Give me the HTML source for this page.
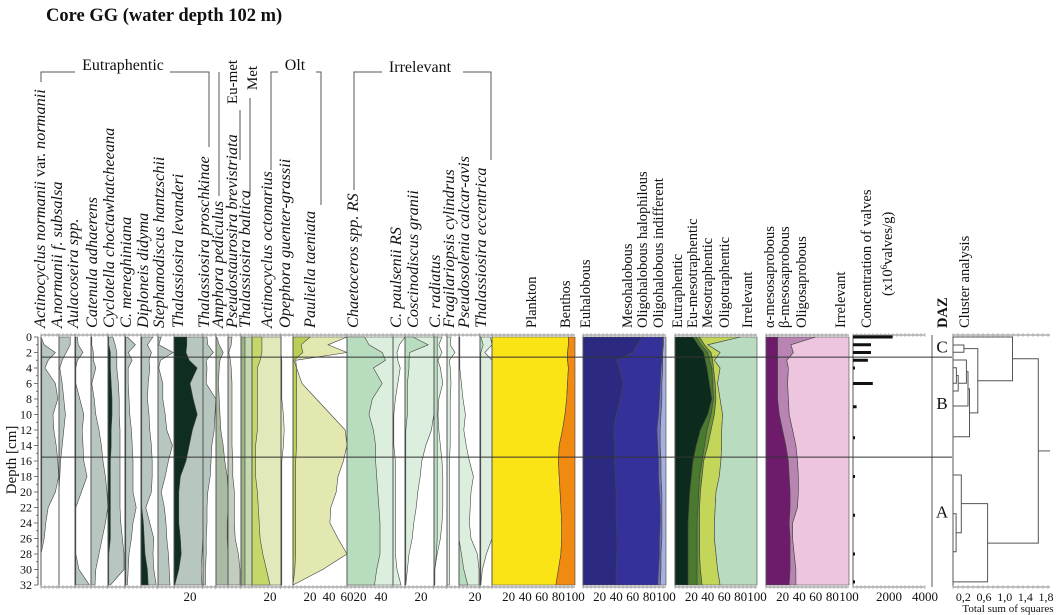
<!DOCTYPE html>
<html><head><meta charset="utf-8"><title>Core GG diatom diagram</title>
<style>
html,body{margin:0;padding:0;background:#fff;}
svg{display:block;font-family:"Liberation Serif",serif;}
</style></head>
<body>
<svg id="chart" width="1061" height="615" viewBox="0 0 1061 615" xmlns="http://www.w3.org/2000/svg">
<text x="46" y="21" font-size="18.5" font-weight="bold" fill="#111">Core GG (water depth 102 m)</text>
<text transform="translate(16,460) rotate(-90)" text-anchor="middle" font-size="15" fill="#111">Depth [cm]</text>
<g id="g-groups" stroke="#555" stroke-width="1" fill="none">
<polyline points="41,82 41,72 75,72"/><polyline points="170,72 209,72 209,147"/>
<polyline points="219,196 219,72"/><polyline points="240,160 240,110"/>
<polyline points="250,196 250,98"/>
<polyline points="271,170 271,72 278,72"/><polyline points="316,72 321,72 321,205"/>
<polyline points="354,190 354,72 382,72"/><polyline points="463,72 491,72 491,160"/>
</g>
<text x="123" y="70" text-anchor="middle" font-size="16" fill="#111">Eutraphentic</text>
<text transform="translate(237,82) rotate(-90)" text-anchor="middle" font-size="15" fill="#111">Eu-met</text>
<text transform="translate(257,78) rotate(-90)" text-anchor="middle" font-size="15" fill="#111">Met</text>
<text x="295" y="70" text-anchor="middle" font-size="16" fill="#111">Olt</text>
<text x="420" y="72" text-anchor="middle" font-size="16" fill="#111">Irrelevant</text>
<g id="g-main"></g>
</svg>
<script>
// ---------- data ----------
const depths=[0,1,2,3,4,6,8,10,12,14,16,18,20,22,24,26,28,30,32];
const actNormOuter=[0,4,18,9,5,18,21,15,16,19,21,22,18,9,6,4,0,0,0];
const actNormInner=[0,1,1,1,1,1,1,1,1,1,1,1,1,1,1,1,0,0,0];
const subsalsaOuter=[14,14,9,4,1,4,6,8,6,4,2,1,0,0,0,0,0,0,0];
const aulacoOuter=[3,4,10,3,1,1,6,11,9,10,11,15,8,1,1,1,1,5,18];
const aulacoInner=[1,1,1,1,1,1,1,1,1,1,1,1,1,1,1,1,1,1,1];
const catenulaOuter=[1,1,3,3,6,1,4,6,10,13,15,18,20,21,18,14,10,6,5];
const cyclotOuter=[6,9,11,11,11,13,14,14,15,15,15,15,15,15,16,18,20,20,3];
const cyclotInner=[1,1,3,3,3,4,5,5,4,4,3,3,3,3,3,3,1,1,1];
const menegOuter=[3,13,4,9,4,4,5,6,8,9,10,10,10,14,10,8,5,4,3];
const menegInner=[1,1,1,1,1,1,1,1,1,1,1,1,1,1,1,1,1,1,1];
const diplOuter=[15,8,13,10,11,9,8,10,11,13,14,14,13,6,11,16,15,16,19];
const diplInner=[1,1,1,1,1,1,1,1,1,1,1,1,1,1,3,4,5,8,9];
const stephOuter=[4,1,19,3,1,6,6,9,11,18,13,9,4,8,10,11,13,14,15];
const levOuter=[36,36,36,36,36,36,36,36,36,36,36,36,36,36,36,36,35,34,35];
const levInner=[16,16,15,19,29,20,24,29,23,19,15,8,6,6,6,8,9,6,1];
const proschOuter=[5,6,13,4,5,4,16,15,14,11,10,9,6,5,5,4,4,3,3];
const amphOuter=[1,4,9,5,4,3,4,5,6,9,11,14,15,15,14,14,15,15,15];
const pseudostOuter=[5,4,1,3,4,5,5,5,5,5,6,6,8,8,8,9,13,15,15];
const balticaOuter=[14,14,14,14,14,14,14,14,14,14,14,14,14,14,14,14,14,14,14];
const balticaInner=[5,5,5,5,5,5,5,5,5,5,5,5,5,5,5,5,5,5,5];
const octOuter=[32,32,32,32,32,32,32,32,32,32,32,32,32,32,32,32,32,32,32];
const octInner=[11,11,11,9,6,6,6,6,6,4,4,4,6,7,8,9,12,16,20];
const opephOuter=[0,0,0,1,1,1,1,3,4,3,1,1,1,1,1,1,1,1,1];
const paulOuter=[60,39,60,3,4,10,26,42,58,60,56,50,48,42,41,50,60,33,0];
const paulInner=[19,9,11,1,4,4,4,4,4,4,3,3,3,3,3,3,3,2,0];
const chaetOuter=[42,42,42,42,42,42,42,42,42,42,42,42,42,42,42,42,42,42,42];
const chaetInner=[16,20,32,35,24,32,23,20,24,26,26,27,28,29,30,30,30,27,25];
const cpaulOuter=[15,8,5,6,9,6,3,1,1,1,3,3,3,3,3,3,3,5,10];
const cosciOuter=[36,36,36,36,36,36,36,36,33,26,21,19,16,14,11,9,5,3,1];
const cosciInner=[10,29,6,5,5,3,3,3,1,1,1,1,1,1,1,1,1,1,1];
const radOuter=[10,6,10,5,8,11,6,5,6,8,10,11,11,11,10,8,4,1,1];
const radInner=[4,4,4,4,4,4,4,4,4,4,4,4,4,4,4,4,3,1,1];
const fragOuter=[5,4,10,3,4,5,4,4,4,4,3,3,3,3,3,3,3,3,3];
const pseudosolOuter=[1,1,1,1,1,3,5,8,6,9,13,18,15,14,13,15,23,25,25];
const pseudosolInner=[0,0,0,0,0,0,0,0,0,0,0,0,0,0,0,0,3,6,11];
const eccOuter=[13,15,6,15,15,15,15,15,15,15,15,15,15,15,15,15,8,3,1];
const eccInner=[1,4,1,1,1,1,1,1,1,1,1,1,1,1,1,1,1,1,1];
const plankton=[92,92,91,91,92,91,90,88,85,81,80,81,82,83,84,84,83,80,77];
const euhalCum=[71,65,60,40,44,48,45,40,37,38,38,39,40,40,40,41,41,40,40];
const mesohalCum=[96,96,95,95,94,93,92,91,89,90,91,91,92,93,93,92,92,91,90];
const oligohalCum=[97,97,96,96,96,95,95,94,93,93,94,94,95,95,95,95,94,94,93];
const eutrCum=[22,28,35,37,39,42,45,40,31,26,22,20,18,17,16,16,16,16,16];
const eumesoCum=[26,32,40,42,45,46,47,44,39,36,33,30,29,28,27,27,27,27,27];
const mesotrCum=[30,36,44,46,47,49,50,48,44,40,35,33,31,30,30,30,30,31,33];
const oligotrCum=[80,40,55,48,55,52,55,58,57,57,56,54,50,49,48,48,50,52,55];
const alphaCum=[14,14,14,14,14,14,14,16,20,24,27,28,29,29,28,29,29,29,28];
const betaCum=[60,30,33,25,27,26,27,28,32,36,38,39,39,38,32,32,34,36,36];
const concDepths=[0,1,2,3,4,6,9,13,18,23,28,31.6];
const concValues=[2200,1000,1000,830,100,1100,200,100,80,30,30,30];
const linkTop=[1.03,3.96,4.97,2.97,4.47,6.7,1.5,0,22.8,17.8,21.5,2.8];
const linkBot=[1.98,5.98,6.97,5.97,8.9,12.86,9.8,5.65,27.7,25.25,31.6,26.6];
const linkH=[0.21,0.065,0.10,0.26,0.29,0.32,0.48,1.15,0.06,0.16,0.67,1.65];
const linkHTop=[0,0,0.065,0,0.26,0.29,0.21,0,0,0,0.16,1.15];
const linkHBot=[0,0,0,0.10,0,0,0.32,0.48,0,0.06,0,0.67];
const depthTicks=[0,2,4,6,8,10,12,14,16,18,20,22,24,26,28,30,32];
const clusterTicks=["0,2","0,6","1,0","1,4","1,8"];
const clusterTickVals=[0.2,0.6,1.0,1.4,1.8];
const dazLabels=["C","B","A"];
const dazDepths=[1.2,8.5,22.5];
const zoneBounds=[2.6,15.5];

// ---------- helpers ----------
const NS="http://www.w3.org/2000/svg";
const main=document.getElementById('g-main');
const Y0=337, DY=7.75;
function yD(d){return Y0+d*DY;}
function mk(tag,attrs,parent){const e=document.createElementNS(NS,tag);for(const k in attrs)e.setAttribute(k,attrs[k]);(parent||main).appendChild(e);return e;}

function frame(x0,x1,name){
  const g=mk('g',{});
  
  
  mk('line',{x1:x0,y1:yD(0)-2,x2:x0,y2:yD(32)+2,stroke:'#555','stroke-width':1},g);
  [yD(0)-2,yD(32)+2].forEach(yy=>{
    mk('line',{x1:x0,y1:yy,x2:x1,y2:yy,stroke:'#888','stroke-width':1},g);
    for(let x=x0;x<=x1;x+=4){mk('line',{x1:x,y1:yy-2,x2:x,y2:yy+2,stroke:'#999','stroke-width':0.6},g);}
  });
}
function area(x0,s,vals,fill,name,lower){
  let pts=[];
  for(let i=0;i<depths.length;i++)pts.push((x0+vals[i]*s).toFixed(1)+','+yD(depths[i]).toFixed(1));
  if(lower){for(let i=depths.length-1;i>=0;i--)pts.push((x0+lower[i]*s).toFixed(1)+','+yD(depths[i]).toFixed(1));}
  else{pts.push(x0+','+yD(32));pts.push(x0+','+yD(0));}
  const p=mk('polygon',{points:pts.join(' '),fill:fill,stroke:'#444','stroke-width':0.6});
  
  
  return p;
}
function vlabel(x,text,italic,name,size){
  const t=mk('text',{transform:'translate('+x+',328) rotate(-90)','font-size':size||(italic?16.3:14.5),fill:'#111'});
  if(italic)t.setAttribute('font-style','italic');
  t.textContent=text;
  
  
  return t;
}
function blabel(x,text,name,y,size){
  const t=mk('text',{x:x,y:y||601,'text-anchor':'middle','font-size':size||13,fill:'#111'});
  t.textContent=text;
  
  
}

// ---------- depth axis ----------
mk('line',{x1:38,y1:yD(0),x2:38,y2:yD(32),stroke:'#555'});
for(let d=0;d<=32;d++){mk('line',{x1:d%2?36:34,y1:yD(d),x2:38,y2:yD(d),stroke:'#555','stroke-width':0.8});}
depthTicks.forEach(d=>{
  const t=mk('text',{x:32,y:yD(d)+4,'text-anchor':'end','font-size':12,fill:'#111'});
  t.textContent=d;
  
  
});

// ---------- taxa panels ----------
const G='#b8c6c0', DK='#0f2e1f';
const panels=[
 {n:'actinocyclus-normanii',x0:41,x1:59,s:0.8,o:actNormOuter,i:actNormInner,oc:G,ic:DK,lx:45,lab:'Actinocyclus normanii  var. normanii'},
 {n:'a-normanii-subsalsa',x0:59,x1:75,s:0.8,o:subsalsaOuter,oc:G,lx:62,lab:'A.normanii f. subsalsa'},
 {n:'aulacoseira',x0:75,x1:91,s:0.8,o:aulacoOuter,i:aulacoInner,oc:G,ic:DK,lx:78,lab:'Aulacoseira spp.'},
 {n:'catenula',x0:91,x1:108,s:0.8,o:catenulaOuter,oc:G,lx:97,lab:'Catenula adhaerens'},
 {n:'cyclotella-choct',x0:108,x1:125,s:0.8,o:cyclotOuter,i:cyclotInner,oc:G,ic:DK,lx:114,lab:'Cyclotella choctawhatcheeana'},
 {n:'c-meneghiniana',x0:125,x1:141,s:0.8,o:menegOuter,i:menegInner,oc:G,ic:DK,lx:131,lab:'C. meneghiniana'},
 {n:'diploneis',x0:141,x1:158,s:0.8,o:diplOuter,i:diplInner,oc:G,ic:DK,lx:148,lab:'Diploneis didyma'},
 {n:'stephanodiscus',x0:158,x1:174,s:0.8,o:stephOuter,oc:G,lx:164,lab:'Stephanodiscus hantzschii'},
 {n:'thal-levanderi',x0:174,x1:203,s:0.8,o:levOuter,i:levInner,oc:G,ic:DK,lx:183,lab:'Thalassiosira levanderi'},
 {n:'thal-proschkinae',x0:203,x1:216,s:0.8,o:proschOuter,oc:G,lx:209,lab:'Thalassiosira proschkinae'},
 {n:'amphora',x0:216,x1:228,s:0.8,o:amphOuter,oc:'#a9bca3',lx:223,lab:'Amphora pediculus'},
 {n:'pseudostaurosira',x0:228,x1:241,s:0.8,o:pseudostOuter,oc:'#c2cdbd',lx:237,lab:'Pseudostaurosira brevistriata'},
 {n:'thal-baltica',x0:241,x1:252,s:0.8,o:balticaOuter,i:balticaInner,oc:'#c6d8b0',ic:'#98b483',lx:250,lab:'Thalassiosira baltica'},
 {n:'act-octonarius',x0:252,x1:281,s:0.9,o:octOuter,i:octInner,oc:'#e1e8b9',ic:'#c4d86a',lx:272,lab:'Actinocyclus octonarius'},
 {n:'opephora',x0:281,x1:293,s:0.8,o:opephOuter,oc:'#e7ecc3',lx:290,lab:'Opephora guenter-grassii'},
 {n:'pauliella',x0:293,x1:347,s:0.9,o:paulOuter,i:paulInner,oc:'#e3e8b0',ic:'#b9cf55',lx:315,lab:'Pauliella taeniata'},
 {n:'chaetoceros',x0:347,x1:393,s:1.1,o:chaetOuter,i:chaetInner,oc:'#dceedd',ic:'#b8dcbe',lx:358,lab:'Chaetoceros spp. RS'},
 {n:'c-paulsenii',x0:393,x1:405,s:0.8,o:cpaulOuter,oc:'#dceedd',lx:401,lab:'C. paulsenii RS'},
 {n:'coscinodiscus',x0:405,x1:434,s:0.8,o:cosciOuter,i:cosciInner,oc:'#dceedd',ic:'#b8dcbe',lx:418,lab:'Coscinodiscus granii'},
 {n:'c-radiatus',x0:434,x1:447,s:0.8,o:radOuter,i:radInner,oc:'#dceedd',ic:'#b8dcbe',lx:440,lab:'C. radiatus'},
 {n:'fragilariopsis',x0:447,x1:459,s:0.8,o:fragOuter,oc:'#dceedd',lx:454,lab:'Fragilariopsis cylindrus'},
 {n:'pseudosolenia',x0:459,x1:480,s:0.8,o:pseudosolOuter,i:pseudosolInner,oc:'#dceedd',ic:'#b8dcbe',lx:469,lab:'Pseudosolenia calcar-avis'},
 {n:'thal-eccentrica',x0:480,x1:492,s:0.8,o:eccOuter,i:eccInner,oc:'#dceedd',ic:'#b8dcbe',lx:486,lab:'Thalassiosira eccentrica'}
];
panels.forEach(p=>{
  area(p.x0,p.s,p.o,p.oc,p.n+'-area');
  if(p.i)area(p.x0,p.s,p.i,p.ic,p.n+'-inner-area');
  frame(p.x0,p.x1,p.n);
  if(p.n==='actinocyclus-normanii'){
    const t=vlabel(p.lx,'',true,p.n+'-label');
    const a=document.createElementNS(NS,'tspan');a.textContent='Actinocyclus normanii  ';t.appendChild(a);
    const b=document.createElementNS(NS,'tspan');b.setAttribute('font-style','normal');b.textContent='var. ';t.appendChild(b);
    const c=document.createElementNS(NS,'tspan');c.textContent='normanii';t.appendChild(c);
  } else vlabel(p.lx,p.lab,true,p.n+'-label');
});

// ---------- stacked panels ----------
function stack(x0,s,layers,fills,names,frameName){
  let prev=null;
  layers.forEach((L,k)=>{area(x0,s,L,fills[k],names[k],prev);prev=L;});
  frame(x0,x0+100*s,frameName);
}
const full=depths.map(()=>100);
const S=0.83;
stack(492,S,[plankton,full],['#fbe416','#f08a10'],['plankton-area','benthos-area'],'plankton-benthos');
stack(583,S,[euhalCum,mesohalCum,oligohalCum,full],['#2b2a80','#34319a','#6f74c2','#aab0de'],['euhalobous-area','mesohalobous-area','oligohalobous-halophilous-area','oligohalobous-indifferent-area'],'halobity');
stack(675,0.82,[eutrCum,eumesoCum,mesotrCum,oligotrCum,full],['#0d2b1c','#4a7a2e','#6c9838','#c3d65a','#b9dcc1'],['eutraphentic-area','eu-mesotraphentic-area','mesotraphentic-area','oligotraphentic-area','trophic-irrelevant-area'],'trophy');
stack(766,S,[alphaCum,betaCum,full],['#6e1b6b','#b885b2','#edc5df'],['alpha-mesosaprobous-area','beta-mesosaprobous-area','oligosaprobous-area'],'saprobity');

[[536,'Plankton','plankton-label'],[570,'Benthos','benthos-label'],[590,'Euhalobous','euhalobous-label'],[632,'Mesohalobous','mesohalobous-label'],[647,'Oligohalobous halophilous','oligohalobous-halophilous-label'],[663,'Oligohalobous indifferent','oligohalobous-indifferent-label'],[682,'Eutraphentic','eutraphentic-label'],[697,'Eu-mesotraphentic','eu-mesotraphentic-label'],[712,'Mesotraphentic','mesotraphentic-label'],[729,'Oligotraphentic','oligotraphentic-label'],[752,'Irrelevant','trophic-irrelevant-label'],[774,'\u03b1-mesosaprobous','alpha-label'],[789,'\u03b2-mesosaprobous','beta-label'],[806,'Oligosaprobous','oligosaprobous-label'],[845,'Irrelevant','saprobic-irrelevant-label'],[871,'Concentration of valves','concentration-label'],[969,'Cluster analysis','cluster-label']]
.forEach(a=>vlabel(a[0],a[1],false,a[2]));
const u=vlabel(892,'(x10',false,'concentration-unit-label');
u.setAttribute('transform','translate(892,296) rotate(-90)');
const sup=document.createElementNS(NS,'tspan');sup.setAttribute('font-size','9');sup.setAttribute('dy','-5');sup.textContent='6';u.appendChild(sup);
const rest=document.createElementNS(NS,'tspan');rest.setAttribute('dy','5');rest.textContent='valves/g)';u.appendChild(rest);
const daz=vlabel(947,'DAZ',false,'daz-label');daz.setAttribute('font-weight','bold');

// ---------- concentration bars ----------
frame(853,925,'concentration');
concDepths.forEach((d,i)=>{
  const w=Math.max(2,concValues[i]/4000*72);
  const r=mk('rect',{x:853,y:yD(d)-1.5,width:w.toFixed(1),height:3,fill:'#111'});
  
  
});

// ---------- DAZ ----------
mk('line',{x1:932,y1:yD(0)-2,x2:932,y2:yD(32)+2,stroke:'#555'});
dazLabels.forEach((L,i)=>{
  const t=mk('text',{x:942,y:yD(dazDepths[i])+6,'text-anchor':'middle','font-size':17,fill:'#111'});
  t.textContent=L;
  
  
});

// ---------- zone lines ----------
zoneBounds.forEach(d=>{
  const l=mk('line',{x1:41,y1:yD(d),x2:952,y2:yD(d),stroke:'#333','stroke-width':1});
  
  
});

// ---------- dendrogram ----------
const CX0=953, CS=51.7;
function cx(h){return CX0+h*CS;}
mk('line',{x1:CX0,y1:yD(0)-2,x2:CX0,y2:yD(32)+2,stroke:'#555'});
[yD(0)-2,yD(32)+2].forEach(yy=>{
  mk('line',{x1:CX0,y1:yy,x2:1050,y2:yy,stroke:'#888'});
  for(let x=CX0;x<=1050;x+=5)mk('line',{x1:x,y1:yy-2,x2:x,y2:yy+2,stroke:'#999','stroke-width':0.6});
});
for(let k=0;k<linkH.length;k++){
  const p=mk('polyline',{points:[cx(linkHTop[k]),yD(linkTop[k]),cx(linkH[k]),yD(linkTop[k]),cx(linkH[k]),yD(linkBot[k]),cx(linkHBot[k]),yD(linkBot[k])].map((v,j)=>v.toFixed(1)+(j%2?' ':',')).join(''),fill:'none',stroke:'#555','stroke-width':1});
  
  
}
mk('line',{x1:cx(1.65),y1:yD(14.7),x2:1050,y2:yD(14.7),stroke:'#555'});
clusterTickVals.forEach((v,i)=>blabel(cx(v),clusterTicks[i],'cluster-tick',601,12));
blabel(1008,'Total sum of squares','cluster-x-axis-title',612,11);

// ---------- bottom scale labels ----------
[[190,'20'],[270,'20'],[310,'20'],[329,'40'],[347,'60'],[360,'20'],[381,'40'],[421,'20'],[475,'20']].forEach(a=>blabel(a[0],a[1],'scale-tick'));
[20,40,60,80,100].forEach(v=>{
  blabel(492+v*S,String(v),'plankton-scale-tick');
  blabel(583+v*S,String(v),'halobity-scale-tick');
  blabel(675+v*0.82,String(v),'trophy-scale-tick');
  blabel(766+v*S,String(v),'saprobity-scale-tick');
});
blabel(889,'2000','concentration-scale-tick');
blabel(925,'4000','concentration-scale-tick');
</script>
</body></html>
